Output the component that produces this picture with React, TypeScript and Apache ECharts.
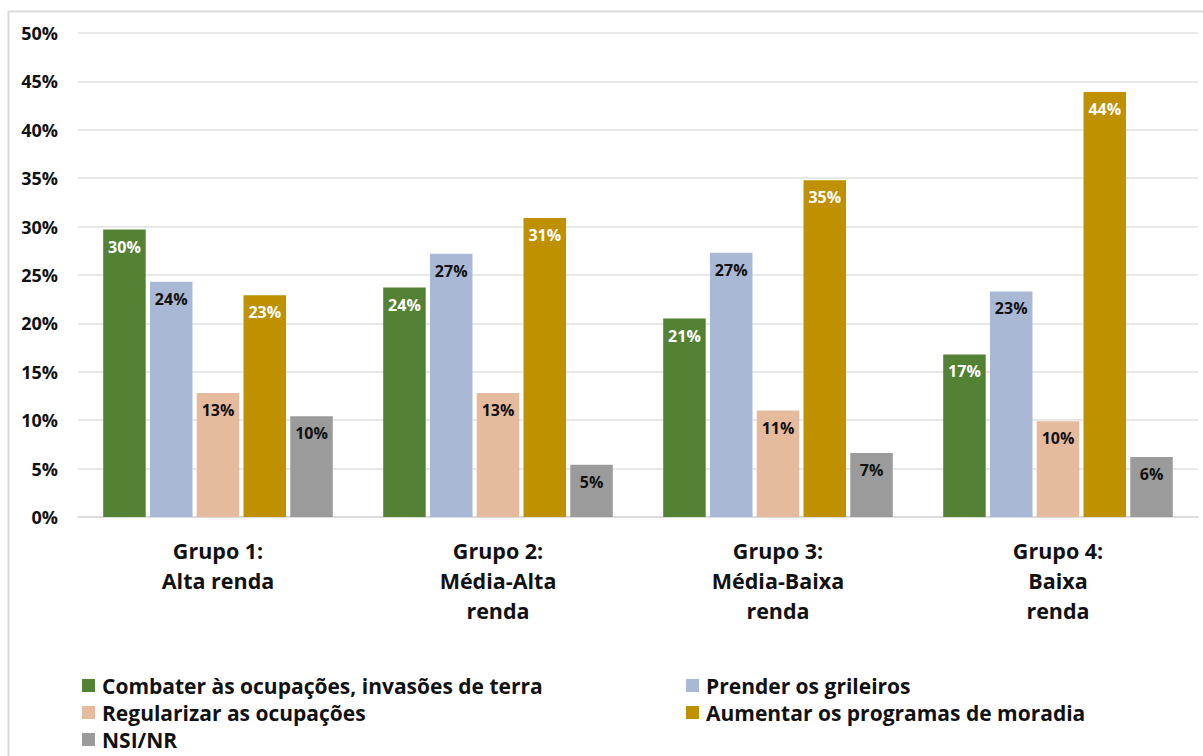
import React, { useEffect, useRef } from "react";
import * as echarts from "echarts";

const categories = ["Grupo 1:\nAlta renda", "Grupo 2:\nMédia-Alta\nrenda", "Grupo 3:\nMédia-Baixa\nrenda", "Grupo 4:\nBaixa\nrenda"];
const seriesNames = [
  "Combater às ocupações, invasões de terra",
  "Prender os grileiros",
  "Regularizar as ocupações",
  "Aumentar os programas de moradia",
  "NSI/NR",
];
const combater = [29.7, 23.7, 20.5, 16.8];
const prender = [24.3, 27.2, 27.3, 23.3];
const regularizar = [12.8, 12.8, 11.0, 9.9];
const aumentar = [22.9, 30.9, 34.8, 43.9];
const nsi = [10.4, 5.4, 6.6, 6.2];
const yTicks = { min: 0, max: 50, interval: 5 };

const colors = ["#548235", "#A9B9D5", "#E6BA9C", "#BF9000", "#9B9B9B"];
const labelColors = ["#FFFFFF", "#111111", "#111111", "#FFFFFF", "#111111"];
const FONT = "'Open Sans', sans-serif";

const legendPos = [
  { left: 82, top: 675 },
  { left: 686, top: 675 },
  { left: 82, top: 702 },
  { left: 686, top: 702 },
  { left: 82, top: 729 },
];

export default function App() {
  const ref = useRef<HTMLDivElement>(null);
  useEffect(() => {
    if (!ref.current) return;
    const chart = echarts.init(ref.current, null, { renderer: "svg" });
    const data = [combater, prender, regularizar, aumentar, nsi];
    chart.setOption({
      animation: false,
      textStyle: { fontFamily: FONT },
      graphic: [
        {
          type: "rect",
          shape: { x: 8.5, y: 11.5, width: 1210, height: 770 },
          style: { fill: "none", stroke: "#D9D9D9", lineWidth: 2 },
          silent: true,
        },
      ],
      grid: { left: 78, right: 5, top: 33, bottom: 239, containLabel: false },
      legend: seriesNames.map((name, i) => ({
        orient: "horizontal",
        left: legendPos[i].left,
        top: legendPos[i].top,
        padding: 0,
        itemWidth: 13,
        itemHeight: 13,
        icon: "rect",
        data: [name],
        textStyle: { fontFamily: FONT, fontSize: 21, fontWeight: "bold", color: "#111", padding: [0, 0, 0, 2] },
      })),
      xAxis: {
        type: "category",
        data: categories,
        axisLine: { lineStyle: { color: "#D9D9D9", width: 1.5 } },
        axisTick: { show: false },
        axisLabel: {
          fontFamily: FONT,
          fontSize: 21.5,
          fontWeight: "bold",
          color: "#111",
          lineHeight: 30,
          margin: 18,
          interval: 0,
        },
      },
      yAxis: {
        type: "value",
        min: yTicks.min,
        max: yTicks.max,
        interval: yTicks.interval,
        axisLabel: {
          formatter: "{value}%",
          fontFamily: FONT,
          fontSize: 18,
          fontWeight: "bold",
          color: "#111",
          margin: 20,
        },
        splitLine: { lineStyle: { color: "#E0E0E0", width: 1.5 } },
        axisLine: { show: false },
        axisTick: { show: false },
      },
      series: seriesNames.map((name, i) => ({
        name,
        type: "bar",
        data: data[i],
        barGap: "10%",
        barCategoryGap: "18%",
        itemStyle: { color: colors[i] },
        label: {
          show: true,
          position: "insideTop",
          distance: 9,
          formatter: (p: any) => Math.round(p.value) + "%",
          fontFamily: FONT,
          fontSize: 16,
          fontWeight: "bold",
          color: labelColors[i],
        },
      })),
    });
    return () => chart.dispose();
  }, []);
  return (
    <div
      ref={ref}
      style={{ position: "absolute", left: 0, top: 0, width: 1203, height: 756, background: "#fff" }}
    />
  );
}
